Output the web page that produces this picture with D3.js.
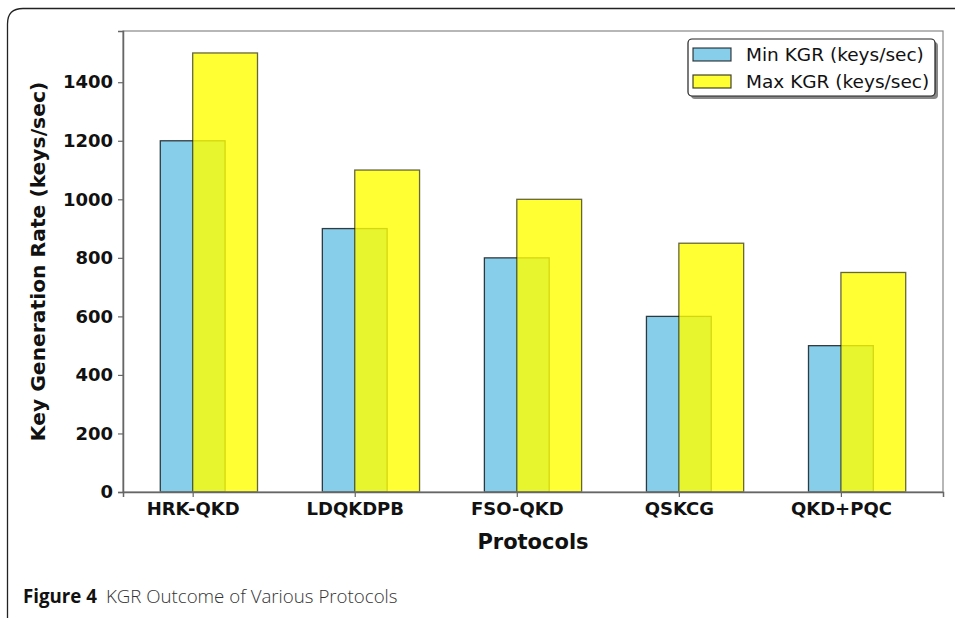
<!DOCTYPE html>
<html>
<head>
<meta charset="utf-8">
<script src="https://cdn.jsdelivr.net/npm/d3@7"></script>
<style>
  html, body { margin: 0; padding: 0; background: #fff; }
  svg { display: block; }
</style>
</head>
<body>
<svg id="chart" width="955" height="618"></svg>
<script>
const categories = ["HRK-QKD", "LDQKDPB", "FSO-QKD", "QSKCG", "QKD+PQC"];
const minKGR = [1200, 900, 800, 600, 500];
const maxKGR = [1500, 1100, 1000, 850, 750];
const yTicks = [0, 200, 400, 600, 800, 1000, 1200, 1400];
const seriesNames = ["Min KGR (keys/sec)", "Max KGR (keys/sec)"];
const seriesColors = ["#87ceeb", "#ffff00"];

const svg = d3.select("#chart");
const font = "'DejaVu Sans', sans-serif";

// outer frame (rounded panel)
svg.append("path")
  .attr("d", "M7.5,640 L7.5,24 Q7.5,8.5 23,8.5 L970,8.5")
  .attr("fill", "none").attr("stroke", "#222").attr("stroke-width", 1.3);

const plot = { left: 123, right: 943, top: 31, bottom: 492 };
const barW = 0.4;
const x = d3.scaleLinear().domain([-0.43, 4.63]).range([plot.left, plot.right]);
const y = d3.scaleLinear().domain([0, 1575]).range([plot.bottom, plot.top]);

const g = svg.append("g");

// min bars (centered on tick)
g.selectAll("rect.min").data(categories).join("rect")
  .attr("class", "min")
  .attr("x", (d, i) => x(i - barW / 2))
  .attr("width", (d, i) => x(barW) - x(0))
  .attr("y", (d, i) => y(minKGR[i]))
  .attr("height", (d, i) => y(0) - y(minKGR[i]))
  .attr("fill", seriesColors[0])
  .attr("stroke", "#000").attr("stroke-width", 1.3).attr("stroke-opacity", 0.75);

// max bars (edge-aligned at tick, semi transparent)
g.selectAll("rect.max").data(categories).join("rect")
  .attr("class", "max")
  .attr("x", (d, i) => x(i))
  .attr("width", (d, i) => x(barW) - x(0))
  .attr("y", (d, i) => y(maxKGR[i]))
  .attr("height", (d, i) => y(0) - y(maxKGR[i]))
  .attr("fill", seriesColors[1]).attr("fill-opacity", 0.8)
  .attr("stroke", "#000").attr("stroke-width", 1.3).attr("stroke-opacity", 0.6);

// frame
svg.append("rect")
  .attr("x", plot.left).attr("y", plot.top)
  .attr("width", plot.right - plot.left).attr("height", plot.bottom - plot.top)
  .attr("fill", "none").attr("stroke", "#888").attr("stroke-width", 1.2);

// axes
const yAxis = d3.axisLeft(y).tickValues(yTicks).tickFormat(d3.format("d")).tickSize(5).tickPadding(5);
const yg = svg.append("g").attr("transform", `translate(${plot.left},0)`).call(yAxis);
yg.select(".domain").attr("stroke", "#666").attr("stroke-width", 1.5);
yg.selectAll(".tick line").attr("stroke", "#666").attr("stroke-width", 1.2);
yg.selectAll(".tick text").attr("font-family", font).attr("font-weight", "bold")
  .attr("font-size", "18px").attr("fill", "#111");

const xAxis = d3.axisBottom(x).tickValues(d3.range(categories.length))
  .tickFormat(i => categories[i]).tickSize(5).tickPadding(5);
const xg = svg.append("g").attr("transform", `translate(0,${plot.bottom})`).call(xAxis);
xg.select(".domain").attr("stroke", "#666").attr("stroke-width", 1.5);
xg.selectAll(".tick line").attr("stroke", "#666").attr("stroke-width", 1.2);
xg.selectAll(".tick text").attr("font-family", font).attr("font-weight", "bold")
  .attr("font-size", "18px").attr("fill", "#111");

// axis labels
svg.append("text")
  .attr("transform", `translate(45,${(plot.top + plot.bottom) / 2}) rotate(-90)`)
  .attr("text-anchor", "middle")
  .attr("font-family", font).attr("font-weight", "bold").attr("font-size", "20.3px")
  .attr("fill", "#111")
  .text("Key Generation Rate (keys/sec)");

svg.append("text")
  .attr("x", (plot.left + plot.right) / 2).attr("y", 549)
  .attr("text-anchor", "middle")
  .attr("font-family", font).attr("font-weight", "bold").attr("font-size", "21px")
  .attr("fill", "#111")
  .text("Protocols");

// legend
const lg = svg.append("g");
lg.append("rect").attr("x", 691).attr("y", 42).attr("width", 247).attr("height", 57)
  .attr("rx", 4).attr("fill", "#888");
lg.append("rect").attr("x", 688).attr("y", 39).attr("width", 247).attr("height", 57)
  .attr("rx", 4).attr("fill", "#fff").attr("stroke", "#222").attr("stroke-width", 1.2);
seriesNames.forEach((name, i) => {
  const cy = 54.5 + i * 27;
  lg.append("rect").attr("x", 693).attr("y", cy - 6.5).attr("width", 38).attr("height", 13)
    .attr("fill", seriesColors[i]).attr("fill-opacity", i === 1 ? 0.8 : 1)
    .attr("stroke", "#000").attr("stroke-opacity", 0.75).attr("stroke-width", 1.2);
  lg.append("text").attr("x", 746).attr("y", cy + 6.5)
    .attr("font-family", font).attr("font-size", "18.5px").attr("fill", "#111")
    .text(name);
});

// caption
const cap = svg.append("text").attr("x", 23).attr("y", 603)
  .attr("font-family", "'Open Sans', 'Noto Sans', sans-serif").attr("font-size", "18.7px");
cap.append("tspan").attr("font-weight", "bold").attr("fill", "#111").text("Figure 4");
cap.append("tspan").attr("dx", 9).attr("fill", "#333").attr("font-weight", 300)
  .text("KGR Outcome of Various Protocols");
</script>
</body>
</html>
